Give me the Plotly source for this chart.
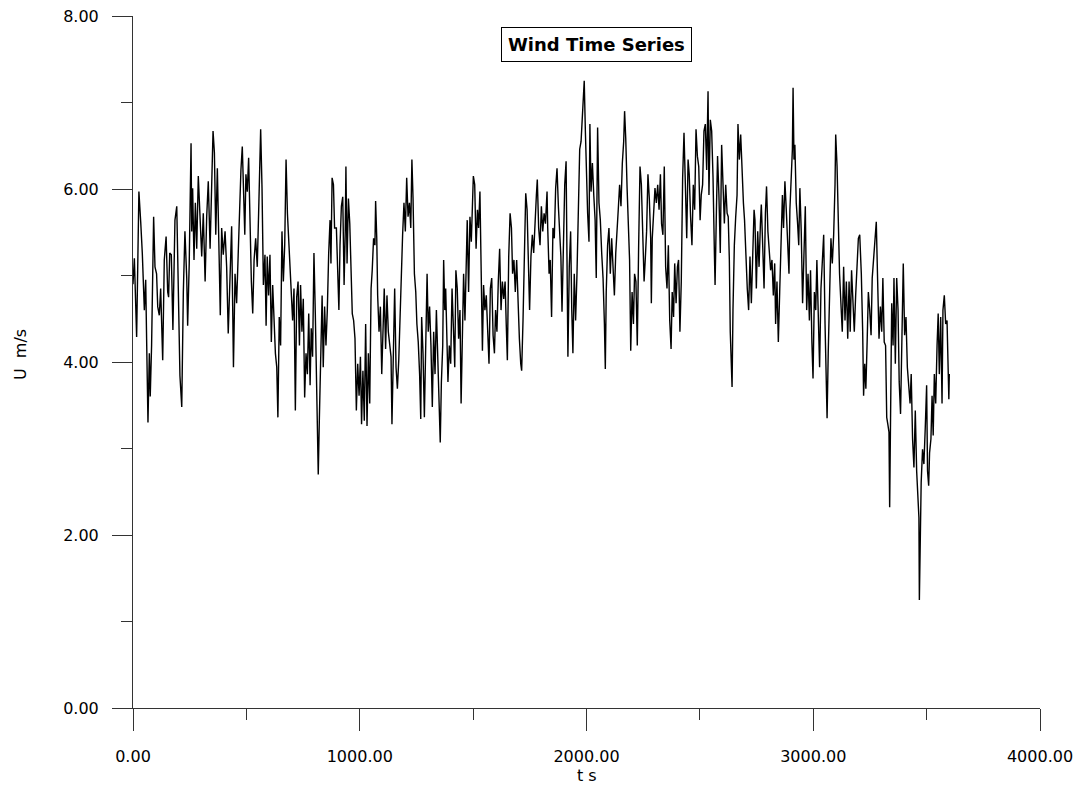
import plotly.graph_objects as go

# ---- data (time in s, wind speed in m/s) ----
t_seconds = [
    0, 6, 16, 26, 34, 41, 50, 56, 60, 66, 72, 76, 82, 91, 97, 104, 109, 116, 122, 131,
    138, 146, 153, 157, 162, 169, 176, 185, 193, 200, 207, 215, 222, 229, 237, 241, 248, 256, 259, 263,
    269, 275, 281, 288, 295, 303, 310, 318, 325, 332, 340, 347, 353, 359, 365, 372, 379, 385, 391, 398,
    406, 413, 420, 428, 435,
    443, 450, 457, 465, 472, 476, 482, 487, 493, 498, 504, 510, 516, 522, 528, 534, 541, 548, 554, 560,
    563, 569, 575, 582, 587, 592, 598, 604, 610, 616, 622, 628, 634, 639, 645, 651, 657, 663, 669, 675,
    681, 687, 692, 698, 704, 710, 716, 722, 728, 734, 739, 745, 751, 757, 763, 769, 775, 781, 786, 792,
    798, 804, 810, 814, 817, 822, 828, 834, 839, 845, 851, 857, 863, 869, 873, 878, 884, 889,
    897, 903, 908, 913, 919, 925, 931, 936, 939, 944, 950, 956, 961, 967, 973, 979, 985, 991, 997, 1003,
    1008, 1014, 1020, 1026, 1032, 1038, 1044, 1050, 1055, 1061, 1067, 1070, 1075, 1079, 1085, 1091, 1097, 1103, 1108, 1114,
    1120, 1126, 1132, 1138, 1142, 1148, 1154, 1160, 1166, 1172, 1178, 1183, 1189, 1195, 1201, 1207, 1213, 1219, 1225, 1230,
    1235, 1241, 1247, 1252, 1258, 1264, 1269, 1273, 1279, 1285, 1291, 1297, 1302, 1308, 1314, 1320, 1326, 1332, 1338, 1344,
    1349, 1355,
    1360, 1366, 1370, 1375, 1379, 1383, 1389, 1395, 1401, 1407, 1413, 1419, 1424, 1430, 1436, 1442, 1447, 1452, 1458, 1464,
    1470, 1474, 1480, 1486, 1492, 1497, 1501, 1507, 1513, 1519, 1524, 1530, 1536, 1541, 1546, 1552, 1558, 1564, 1570, 1576,
    1582, 1588, 1594, 1599, 1605, 1611, 1617, 1623, 1629, 1635, 1641, 1646, 1651, 1657, 1663, 1669, 1674, 1680, 1686, 1692,
    1698, 1704, 1710, 1714, 1720, 1726, 1732, 1738, 1744, 1749, 1755, 1761, 1767, 1773, 1779, 1783, 1789, 1795, 1801, 1807,
    1813, 1819, 1826,
    1829, 1835, 1840, 1846, 1852, 1858, 1864, 1870, 1876, 1882, 1887, 1892, 1898, 1904, 1910, 1914, 1918, 1924, 1930, 1935,
    1940, 1946, 1952, 1958, 1964, 1970, 1976, 1982, 1988, 1990, 1995, 1999, 2005, 2011, 2015, 2020, 2026, 2032, 2038, 2043,
    2049, 2055, 2061, 2067, 2073, 2079, 2083, 2087, 2093, 2099, 2105, 2111, 2117, 2123, 2129, 2135, 2140, 2146, 2152, 2158,
    2164, 2168, 2173, 2179, 2185, 2190, 2195, 2201, 2207, 2212, 2218, 2224, 2230, 2236, 2242, 2248, 2254, 2259, 2265, 2271,
    2277, 2283,
    2286, 2290, 2296, 2302, 2308, 2314, 2320, 2326, 2331, 2337, 2343, 2349, 2355, 2361, 2367, 2373, 2378, 2384, 2389, 2395,
    2401, 2406, 2412, 2418, 2424, 2430, 2436, 2442, 2448, 2453, 2459, 2465, 2471, 2477, 2483, 2489, 2495, 2501, 2506, 2512,
    2518, 2524, 2530, 2536, 2540, 2546, 2552, 2558, 2564, 2567, 2573, 2578, 2584, 2590, 2596, 2602, 2608, 2614, 2620, 2625,
    2630, 2634, 2639, 2642, 2646, 2652, 2658, 2664, 2668, 2674, 2680, 2686, 2692, 2697, 2703, 2709, 2715, 2721, 2727, 2733,
    2739,
    2743, 2749, 2755, 2761, 2767, 2771, 2777, 2783, 2789, 2794, 2800, 2806, 2812, 2818, 2824, 2830, 2834, 2840, 2846, 2852,
    2858, 2864, 2869, 2875, 2881, 2887, 2893, 2897, 2903, 2908, 2911, 2915, 2919, 2925, 2931, 2936, 2941, 2947, 2953, 2959,
    2965, 2971, 2977, 2983, 2988, 2994, 2999, 3005, 3011, 3016, 3022, 3028, 3034, 3040, 3046, 3052, 3056, 3061, 3066, 3072,
    3078, 3084, 3090, 3096, 3099, 3105, 3111, 3116, 3122, 3128, 3134, 3140, 3146, 3152, 3158, 3163, 3169, 3175, 3181, 3187,
    3193, 3199, 3205,
    3212, 3218, 3222, 3227, 3232, 3238, 3243, 3249, 3255, 3260, 3266, 3272, 3278, 3284, 3290, 3296, 3302, 3307, 3313, 3319,
    3324, 3329, 3334, 3337, 3341, 3346, 3352, 3356, 3362, 3368, 3374, 3379, 3385, 3391, 3397, 3403, 3409, 3415, 3421, 3427,
    3432, 3438, 3444, 3450, 3456, 3462, 3466, 3468, 3472, 3476, 3482, 3488, 3494, 3500, 3504, 3509, 3513, 3519, 3524, 3529,
    3534, 3540, 3546, 3551, 3556, 3562, 3568, 3572, 3578, 3584, 3590, 3594, 3598, 3600,
]

wind_speed = [
    4.90, 5.20, 4.29, 5.97, 5.62, 5.26, 4.60, 4.95, 4.27, 3.30, 4.10, 3.60, 4.19, 5.68, 5.10, 5.02, 4.64, 4.54, 4.85, 4.02,
    5.18, 5.45, 4.81, 4.75, 5.26, 5.24, 4.37, 5.64, 5.80, 4.64, 3.84, 3.48, 4.81, 5.51, 4.97, 4.42, 5.14, 6.53, 5.51, 6.01,
    5.18, 5.84, 5.31, 6.15, 5.72, 5.22, 5.72, 4.93, 5.68, 6.09, 5.31, 6.13, 6.67, 6.42, 5.47, 6.24, 5.43, 4.54, 5.55, 5.24,
    5.51, 5.10, 4.33, 5.10, 5.57,
    3.94, 5.02, 4.68, 5.35, 5.76, 6.22, 6.49, 5.89, 5.47, 6.17, 5.97, 6.36, 5.60, 4.93, 4.56, 5.18, 5.43, 5.10, 5.72, 6.26,
    6.69, 6.01, 4.89, 5.24, 4.42, 5.22, 4.77, 5.24, 4.23, 4.89, 4.52, 4.10, 3.94, 3.36, 4.52, 4.19, 5.51, 4.93, 5.35, 6.34,
    5.72, 5.39, 5.14, 4.73, 4.48, 4.85, 3.44, 4.75, 4.93, 4.19, 4.89, 4.35, 4.73, 3.59, 4.10, 3.86, 4.56, 3.73, 4.39, 4.06,
    5.26, 4.56, 3.81, 3.11, 2.70, 3.36, 4.31, 4.77, 3.94, 4.64, 4.19, 4.60, 5.26, 5.64, 5.14, 6.13, 6.05, 5.55,
    5.55, 4.81, 4.60, 5.35, 5.80, 5.91, 4.89, 5.51, 6.26, 5.14, 5.89, 5.60, 5.02, 4.56, 4.48, 4.27, 3.44, 3.98, 3.61, 4.06,
    3.28, 3.90, 3.32, 4.44, 3.26, 4.10, 3.52, 4.85, 5.06, 5.43, 5.35, 5.86, 5.43, 4.77, 4.35, 4.64, 3.86, 4.52, 4.85, 4.15,
    4.77, 4.35, 4.23, 4.06, 3.28, 3.98, 4.85, 3.94, 3.69, 4.02, 4.60, 4.93, 5.47, 5.84, 5.51, 6.13, 5.68, 5.84, 5.55, 6.34,
    5.89, 5.02, 4.81, 4.44, 4.23, 3.86, 3.34, 4.52, 4.10, 3.36, 4.48, 5.02, 4.35, 4.64, 4.19, 3.48, 4.35, 3.86, 4.60, 4.10,
    3.48, 3.07,
    3.77, 4.19, 5.18, 4.60, 4.85, 4.35, 3.77, 4.19, 3.98, 4.85, 4.35, 3.94, 5.06, 4.85, 4.27, 4.60, 3.52, 4.39, 5.02, 4.48,
    5.02, 5.64, 4.81, 5.68, 5.39, 5.76, 6.15, 6.05, 5.31, 5.76, 5.55, 5.97, 5.02, 4.13, 4.89, 4.60, 4.77, 4.35, 3.98, 4.85,
    4.97, 4.31, 4.10, 4.60, 4.35, 4.93, 5.31, 4.60, 4.93, 4.73, 4.93, 4.44, 4.02, 5.22, 5.72, 5.55, 5.02, 5.18, 4.81, 5.18,
    4.64, 4.27, 3.98, 3.90, 4.48, 5.31, 5.95, 5.76, 5.06, 4.60, 5.22, 5.47, 5.26, 5.72, 5.93, 6.11, 5.55, 5.35, 5.80, 5.51,
    5.72, 5.60, 5.97,
    5.55, 5.02, 5.18, 4.52, 5.55, 5.43, 6.01, 6.24, 5.80, 5.55, 5.22, 4.58, 5.43, 6.05, 6.32, 5.35, 4.06, 5.10, 5.51, 4.60,
    4.10, 5.02, 4.48, 5.02, 5.72, 6.46, 6.55, 6.92, 7.09, 7.25, 6.67, 6.13, 5.72, 5.39, 6.75, 5.97, 6.30, 5.93, 5.64, 4.97,
    6.71, 5.84, 5.64, 5.26, 4.97, 4.44, 3.92, 4.81, 5.35, 5.55, 5.02, 5.43, 5.14, 4.77, 5.26, 5.64, 5.76, 6.05, 5.80, 6.30,
    6.55, 6.90, 6.59, 6.01, 5.64, 5.18, 4.13, 4.81, 4.44, 5.02, 4.93, 4.19, 5.35, 6.26, 6.05, 5.43, 4.93, 5.18, 5.51, 6.17,
    5.89, 5.43,
    4.68, 5.43, 5.68, 6.01, 5.84, 6.05, 5.76, 6.17, 5.60, 5.47, 6.26, 5.10, 4.85, 5.35, 4.48, 4.15, 4.81, 4.52, 5.14, 4.68,
    5.10, 5.18, 4.35, 4.93, 6.13, 6.65, 6.05, 5.43, 6.34, 6.17, 5.68, 5.35, 6.05, 5.76, 6.69, 6.38, 6.26, 5.64, 5.93, 6.05,
    6.67, 6.75, 6.22, 7.13, 5.93, 6.80, 6.67, 6.13, 5.26, 4.89, 5.76, 6.38, 5.93, 5.26, 6.51, 5.89, 5.60, 6.05, 5.72, 5.68,
    5.18, 4.35, 4.06, 3.71, 4.60, 5.35, 5.68, 5.93, 6.75, 6.34, 6.63, 6.09, 5.84, 5.64, 5.18, 4.85, 4.60, 5.22, 4.68, 5.18,
    5.76,
    5.64, 4.85, 5.51, 5.10, 5.60, 5.82, 5.35, 4.85, 5.72, 6.03, 5.51, 5.31, 5.06, 5.18, 4.77, 5.14, 4.44, 4.93, 4.23, 4.81,
    5.43, 5.93, 5.55, 6.09, 5.76, 5.43, 5.02, 5.76, 6.26, 6.46, 7.17, 6.34, 6.51, 5.84, 5.60, 5.35, 6.01, 5.51, 4.68, 5.35,
    5.80, 4.60, 5.02, 4.48, 5.06, 4.23, 3.81, 4.81, 4.60, 5.18, 4.52, 3.94, 4.85, 5.18, 5.47, 4.44, 3.86, 3.35, 4.10, 4.93,
    5.43, 5.14, 5.47, 6.05, 6.63, 6.26, 5.51, 5.02, 4.68, 4.35, 5.10, 4.48, 4.93, 4.27, 4.93, 4.35, 5.06, 4.60, 4.35, 4.77,
    5.18, 5.43, 5.47,
    5.02, 4.35, 3.61, 3.98, 3.69, 4.27, 4.81, 4.60, 4.31, 4.97, 5.18, 5.35, 5.62, 4.93, 4.27, 4.64, 4.35, 4.97, 4.23, 4.19,
    3.36, 3.28, 3.19, 2.32, 3.52, 4.68, 4.19, 4.97, 3.98, 4.97, 4.60, 3.77, 3.40, 4.39, 5.14, 4.31, 4.52, 3.94, 3.77, 3.52,
    3.86, 3.11, 2.78, 3.44, 2.74, 2.49, 2.20, 1.25, 2.32, 2.61, 2.99, 2.82, 3.24, 3.73, 2.74, 2.57, 2.95, 3.11, 3.61, 3.15,
    3.86, 3.52, 4.19, 4.56, 3.86, 4.52, 3.52, 4.60, 4.77, 4.44, 4.48, 3.86, 3.57, 3.86,
]

x_tick_vals = [0, 1000, 2000, 3000, 4000]
x_tick_text = ["0.00", "1000.00", "2000.00", "3000.00", "4000.00"]
y_tick_vals = [0, 2, 4, 6, 8]
y_tick_text = ["0.00", "2.00", "4.00", "6.00", "8.00"]

assert len(t_seconds) == len(wind_speed), (len(t_seconds), len(wind_speed))

FONT = "DejaVu Sans"
AX = "#333333"

fig = go.Figure(
    go.Scatter(
        x=t_seconds,
        y=wind_speed,
        mode="lines",
        line=dict(color="black", width=1.4),
        hoverinfo="x+y",
    )
)

fig.update_layout(
    width=1078,
    height=791,
    margin=dict(l=133, r=38, t=16, b=83, autoexpand=False),
    plot_bgcolor="white",
    paper_bgcolor="white",
    showlegend=False,
    font=dict(family=FONT, size=16, color="black"),
    xaxis=dict(
        range=[0, 4000],
        automargin=False,
        tickmode="array",
        tickvals=x_tick_vals,
        ticktext=x_tick_text,
        ticks="outside",
        ticklen=22,
        tickwidth=1,
        tickcolor=AX,
        ticklabelstandoff=12,
        showline=True,
        linecolor=AX,
        linewidth=1,
        showgrid=False,
        zeroline=False,
        minor=dict(dtick=500, tick0=0, ticks="outside", ticklen=11, tickwidth=1, tickcolor=AX, showgrid=False),
    ),
    yaxis=dict(
        range=[0, 8],
        automargin=False,
        tickmode="array",
        tickvals=y_tick_vals,
        ticktext=y_tick_text,
        ticks="outside",
        ticklen=20,
        tickwidth=1,
        tickcolor=AX,
        ticklabelstandoff=10,
        showline=True,
        linecolor=AX,
        linewidth=1,
        showgrid=False,
        zeroline=False,
        minor=dict(dtick=1, tick0=0, ticks="outside", ticklen=11, tickwidth=1, tickcolor=AX, showgrid=False),
    ),
    annotations=[
        dict(
            text="<b>Wind Time Series</b>",
            x=2000, xref="x",
            y=(708 - 44.5) / 692, yref="paper",
            xanchor="center", yanchor="middle",
            xshift=10,
            showarrow=False,
            bordercolor="black", borderwidth=1, borderpad=6,
            bgcolor="white",
            font=dict(family=FONT, size=18, color="black"),
        ),
        dict(
            text="U\u00a0\u00a0m/s",
            x=(20 - 133) / 907, xref="paper",
            y=0.51, yref="paper",
            xanchor="center", yanchor="middle",
            textangle=-90,
            showarrow=False,
            font=dict(family=FONT, size=16, color="black"),
        ),
        dict(
            text="t s",
            x=2000, xref="x",
            y=(708 - 775) / 692, yref="paper",
            xanchor="center", yanchor="middle",
            showarrow=False,
            font=dict(family=FONT, size=16, color="black"),
        ),
    ],
)

fig.write_html("out.html")
